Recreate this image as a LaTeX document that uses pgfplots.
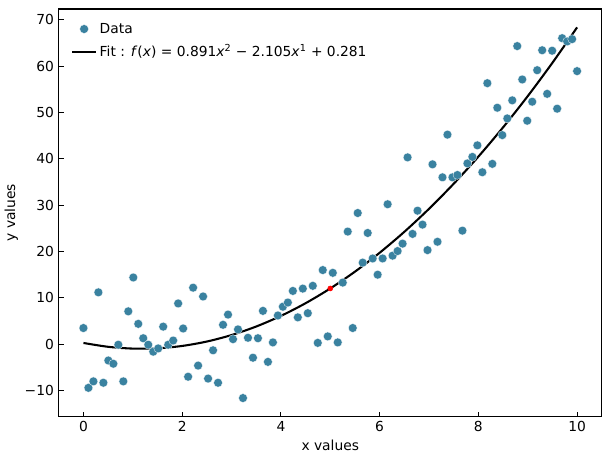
\documentclass[border=0pt]{standalone}
\usepackage{fontspec}
\setmainfont{DejaVu Sans}
\usepackage{pgfplots}
\usepackage{pgfplotstable}
\pgfplotsset{compat=1.18}
\definecolor{dotc}{HTML}{3A82A0}
\pgfplotstableread{
x y
0.000 3.5
0.101 -9.4
0.202 -8.0
0.303 11.2
0.404 -8.3
0.505 -3.5
0.606 -4.2
0.707 -0.1
0.808 -8.0
0.909 7.1
1.010 14.4
1.111 4.4
1.212 1.3
1.313 -0.1
1.414 -1.6
1.515 -0.9
1.616 3.8
1.717 -0.1
1.818 0.8
1.919 8.8
2.020 3.4
2.121 -7.0
2.222 12.2
2.323 -4.6
2.424 10.3
2.525 -7.4
2.626 -1.3
2.727 -8.3
2.828 4.2
2.929 6.4
3.030 1.1
3.131 3.2
3.232 -11.6
3.333 1.4
3.434 -2.9
3.535 1.3
3.636 7.2
3.737 -3.8
3.838 0.4
3.939 6.2
4.040 8.1
4.141 9.0
4.242 11.5
4.343 5.8
4.444 12.0
4.545 6.7
4.646 12.6
4.747 0.3
4.848 16.0
4.949 1.7
5.051 15.4
5.152 0.4
5.253 13.3
5.354 24.3
5.455 3.5
5.556 28.3
5.657 17.6
5.758 24.0
5.859 18.5
5.960 15.0
6.061 18.5
6.162 30.2
6.263 19.1
6.364 20.1
6.465 21.7
6.566 40.3
6.667 23.8
6.768 28.8
6.869 25.8
6.970 20.3
7.071 38.8
7.172 22.1
7.273 36.0
7.374 45.2
7.475 36.0
7.576 36.5
7.677 24.5
7.778 39.0
7.879 40.4
7.980 42.9
8.081 37.1
8.182 56.3
8.283 38.9
8.384 51.0
8.485 45.1
8.586 48.7
8.687 52.6
8.788 64.3
8.889 57.1
8.990 48.2
9.091 52.3
9.192 59.1
9.293 63.4
9.394 54.0
9.495 63.3
9.596 50.8
9.697 66.0
9.798 65.3
9.899 65.8
10.000 58.9
}\datatable
\pgfplotstableread{
x y
0.0 0.281
0.5 -0.549
1.0 -0.933
1.5 -0.872
2.0 -0.365
2.5 0.587
3.0 1.985
3.5 3.828
4.0 6.117
4.5 8.851
5.0 12.031
5.5 15.656
6.0 19.727
6.5 24.243
7.0 29.205
7.5 34.612
8.0 40.465
8.5 46.763
9.0 53.507
9.5 60.696
10.0 68.331
}\fittable
\begin{document}
\begin{tikzpicture}
\begin{axis}[
  scale only axis,
  width=393pt, height=295pt,
  xmin=-0.5, xmax=10.5,
  ymin=-15.6, ymax=72.3,
  xtick={0,2,4,6,8,10},
  xticklabels={0,2,4,6,8,10},
  ytick={-10,0,10,20,30,40,50,60,70},
  yticklabels={−10,0,10,20,30,40,50,60,70},
  tick align=inside,
  xtick pos=bottom, ytick pos=left,
  major tick length=3.5pt,
  tick style={black, line width=0.6pt},
  axis line style={line width=0.8pt},
  xlabel={x values}, ylabel={y values},
  xlabel style={yshift=1pt},
  ylabel style={yshift=-2pt},
  legend style={draw=none, fill=none, at={(0.015,0.98)}, anchor=north west, font=\normalsize, row sep=3pt},
  legend cell align=left,
]
\addplot[only marks, mark=*, mark size=3.2pt, mark options={fill=dotc, draw=white, line width=0.2pt}] table[x=x,y=y]{\datatable};
\addlegendentry{Data}
\addplot[black, line width=1.5pt, smooth, mark=none] table[x=x,y=y]{\fittable};
\addlegendentry{Fit : \textit{f}(\textit{x}) = 0.891\textit{x}\textsuperscript{2} − 2.105\textit{x}\textsuperscript{1} + 0.281}
\addplot[only marks, mark=*, mark size=1.8pt, red, forget plot] coordinates {(5.0,12.031)};
\end{axis}
\path (current axis.north east) ++(4.5pt,6.5pt);
\end{tikzpicture}
\end{document}
